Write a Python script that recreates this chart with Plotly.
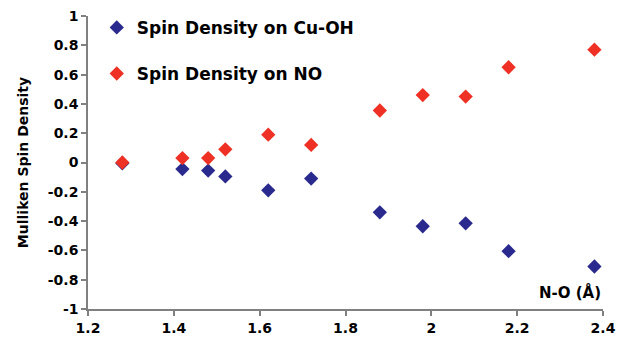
import plotly.graph_objects as go

no_dist = [1.28, 1.42, 1.48, 1.52, 1.62, 1.72, 1.88, 1.98, 2.08, 2.18, 2.38]
spin_cuoh = [-0.005, -0.045, -0.055, -0.095, -0.19, -0.11, -0.34, -0.435, -0.415, -0.605, -0.71]
spin_no = [0.0, 0.03, 0.03, 0.09, 0.19, 0.12, 0.355, 0.46, 0.45, 0.65, 0.77]

x_ticks = [1.2, 1.4, 1.6, 1.8, 2.0, 2.2, 2.4]
x_tick_labels = ["1.2", "1.4", "1.6", "1.8", "2", "2.2", "2.4"]
y_ticks = [-1, -0.8, -0.6, -0.4, -0.2, 0, 0.2, 0.4, 0.6, 0.8, 1]
y_tick_labels = ["-1", "-0.8", "-0.6", "-0.4", "-0.2", "0", "0.2", "0.4", "0.6", "0.8", "1"]

FONT = "DejaVu Sans, Arial, sans-serif"

def bold(s):
    return "<b>" + s + "</b>"

fig = go.Figure()
fig.add_trace(go.Scatter(
    x=no_dist, y=spin_cuoh, mode="markers", name=bold("Spin Density on Cu-OH"),
    legendgroup="a",
    marker=dict(symbol="diamond", size=11, color="#2a2a8e"),
))
fig.add_trace(go.Scatter(
    x=no_dist, y=spin_no, mode="markers", name=bold("Spin Density on NO"),
    legendgroup="b",
    marker=dict(symbol="diamond", size=11, color="#ee3124"),
))

axis_common = dict(
    showgrid=False, zeroline=False, showline=True, linecolor="#808080", linewidth=1.5,
    ticks="outside", ticklen=5, tickcolor="#808080", tickwidth=1.5,
    tickfont=dict(family=FONT, size=14, color="black"),
    automargin=False,
)

fig.update_layout(
    width=618, height=341,
    margin=dict(l=88, r=15, t=16, b=32, autoexpand=False),
    paper_bgcolor="white", plot_bgcolor="white",
    showlegend=True,
    legend=dict(
        x=0.017, y=1.021, xanchor="left", yanchor="top",
        bgcolor="rgba(0,0,0,0)",
        font=dict(family=FONT, size=17, color="black"),
        tracegroupgap=21, itemwidth=30,
    ),
    xaxis=dict(range=[1.2, 2.4], tickvals=x_ticks, ticktext=[bold(t) for t in x_tick_labels], **axis_common),
    yaxis=dict(range=[-1, 1], tickvals=y_ticks, ticktext=[bold(t) for t in y_tick_labels],
               title=dict(text=bold("Mulliken Spin Density"), standoff=16,
                          font=dict(family=FONT, size=14, color="black")),
               **axis_common),
    annotations=[dict(
        text=bold("N-O (Å)"), xref="paper", yref="paper", x=1.0, y=0.055,
        xanchor="right", yanchor="middle", showarrow=False,
        font=dict(family=FONT, size=15, color="black"),
    )],
)

fig.write_html("out.html")
